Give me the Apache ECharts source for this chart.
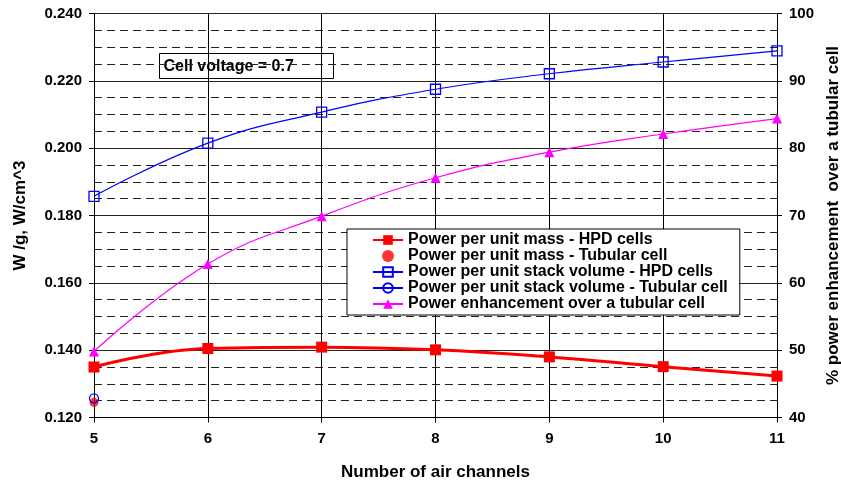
<!DOCTYPE html>
<html><head><meta charset="utf-8">
<script src="https://cdn.jsdelivr.net/npm/echarts@6/dist/echarts.min.js"></script>
<style>html,body{margin:0;padding:0;background:#fff}#c{width:841px;height:485px}</style>
</head><body><div id="c"></div>
<script>
const channels = [5, 6, 7, 8, 9, 10, 11];
const massHPD = [0.1350, 0.1405, 0.1409, 0.1401, 0.1380, 0.1351, 0.1323];
const massTubular = [0.1245];
const volHPD = [0.1857, 0.2015, 0.2107, 0.2175, 0.2221, 0.2256, 0.2289];
const volTubular = [0.1257];
const enhancement = [49.8, 62.8, 69.9, 75.6, 79.4, 82.1, 84.4];
const seriesNames = [
  'Power per unit mass - HPD cells',
  'Power per unit mass - Tubular cell',
  'Power per unit stack volume - HPD cells',
  'Power per unit stack volume - Tubular cell',
  'Power enhancement over a tubular cell'
];
const annotation = 'Cell voltage = 0.7';

const pair = (xs, ys) => ys.map((v, i) => [xs[i], v]);
const FONT = 'Liberation Sans, Arial, sans-serif';
const chart = echarts.init(document.getElementById('c'), null, {renderer: 'canvas'});
chart.setOption({
  animation: false,
  backgroundColor: '#fff',
  textStyle: {fontFamily: FONT},
  grid: {left: 94, right: 64, top: 13.5, bottom: 67.5, containLabel: false, outerBoundsMode: 'none'},
  xAxis: {
    type: 'value', min: 5, max: 11, interval: 1,
    name: 'Number of air channels', nameLocation: 'middle', nameGap: 46,
    nameTextStyle: {fontFamily: FONT, fontWeight: 'bold', fontSize: 17, color: '#000'},
    axisLine: {show: true, lineStyle: {color: '#000', width: 1}},
    axisTick: {show: true, inside: false, length: 5, lineStyle: {color: '#000'}},
    axisLabel: {fontFamily: FONT, fontWeight: 'bold', fontSize: 15, color: '#000', margin: 14},
    splitLine: {show: true, lineStyle: {color: '#000', width: 1}}
  },
  yAxis: [{
    type: 'value', min: 0.12, max: 0.24, interval: 0.02, position: 'left',
    name: 'W /g, W/cm^3', nameLocation: 'middle', nameGap: 65, nameRotate: 90,
    nameTextStyle: {fontFamily: FONT, fontWeight: 'bold', fontSize: 17, color: '#000'},
    axisLine: {show: true, lineStyle: {color: '#000', width: 1}},
    axisTick: {show: true, length: 5, lineStyle: {color: '#000'}},
    axisLabel: {fontFamily: FONT, fontWeight: 'bold', fontSize: 15, color: '#000', margin: 12,
      formatter: v => v.toFixed(3)},
    splitLine: {show: true, lineStyle: {color: '#222', width: 1}},
    minorTick: {show: false, splitNumber: 4},
    minorSplitLine: {show: true, lineStyle: {color: '#222', width: 1, type: [8, 5]}}
  }, {
    type: 'value', min: 40, max: 100, interval: 10, position: 'right',
    name: '% power enhancement  over a tubular cell', nameLocation: 'middle', nameGap: 42, nameRotate: 90,
    nameTextStyle: {fontFamily: FONT, fontWeight: 'bold', fontSize: 17, color: '#000'},
    axisLine: {show: true, lineStyle: {color: '#000', width: 1}},
    axisTick: {show: true, length: 5, lineStyle: {color: '#000'}},
    axisLabel: {fontFamily: FONT, fontWeight: 'bold', fontSize: 15, color: '#000', margin: 12},
    splitLine: {show: false}
  }],
  legend: {
    orient: 'vertical', left: 347, top: 229,
    width: 390,
    backgroundColor: '#fff', borderColor: '#000', borderWidth: 1,
    padding: [3, 12, 3, 25], itemGap: 0, itemWidth: 30, itemHeight: 12,
    textStyle: {fontFamily: FONT, fontWeight: 'bold', fontSize: 16, lineHeight: 14.5, color: '#000'},
    data: seriesNames
  },
  graphic: [{
    type: 'group', left: 159, top: 53,
    children: [
      {type: 'rect', shape: {x: 0, y: 0, width: 174, height: 25},
        style: {fill: '#fff', stroke: '#000', lineWidth: 1}},
      {type: 'text', x: 4, y: 13,
        style: {text: annotation, font: 'bold 16px ' + FONT, fill: '#000', verticalAlign: 'middle'}}
    ]
  }],
  series: [{
    name: seriesNames[0], type: 'line', yAxisIndex: 0, smooth: 0.45,
    data: pair(channels, massHPD),
    symbol: 'rect', symbolSize: 11,
    lineStyle: {color: '#ff0000', width: 3},
    itemStyle: {color: '#ff0000'}, z: 5
  }, {
    name: seriesNames[1], type: 'scatter', yAxisIndex: 0,
    data: pair(channels, massTubular),
    symbol: 'circle', symbolSize: 9,
    itemStyle: {color: '#ff0000'}, z: 4
  }, {
    name: seriesNames[2], type: 'line', yAxisIndex: 0, smooth: 0.45,
    data: pair(channels, volHPD),
    symbol: 'rect', symbolSize: 10,
    lineStyle: {color: '#0000ff', width: 1.2},
    itemStyle: {color: 'rgba(255,255,255,0)', borderColor: '#0000ff', borderWidth: 1.3}, z: 5
  }, {
    name: seriesNames[3], type: 'line', yAxisIndex: 0,
    data: pair(channels, volTubular),
    symbol: 'circle', symbolSize: 9, showSymbol: true,
    lineStyle: {color: '#0000ff', width: 1.2},
    itemStyle: {color: 'rgba(255,255,255,0)', borderColor: '#0000ff', borderWidth: 1.3}, z: 6
  }, {
    name: seriesNames[4], type: 'line', yAxisIndex: 1, smooth: 0.45,
    data: pair(channels, enhancement),
    symbol: 'triangle', symbolSize: 10,
    lineStyle: {color: '#ff00ff', width: 1.2},
    itemStyle: {color: '#ff00ff'}, z: 5
  }]
});
</script></body></html>
